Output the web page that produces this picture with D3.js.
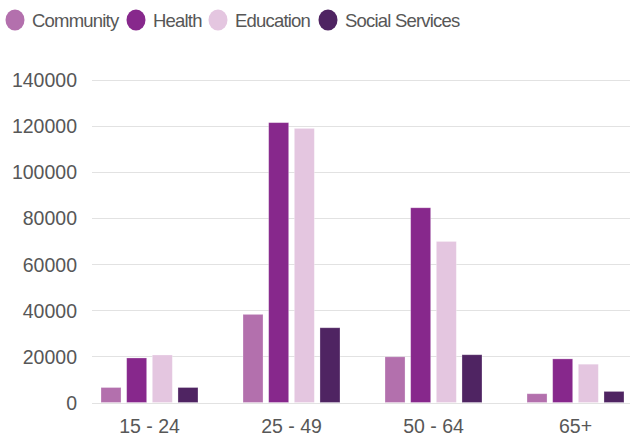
<!DOCTYPE html>
<html><head><meta charset="utf-8">
<script src="https://cdn.jsdelivr.net/npm/d3@7"></script>
<style>
html,body{margin:0;padding:0;background:#fff;}
svg{display:block;font-family:"Liberation Sans",Arial,sans-serif;}
</style></head>
<body><svg id="c" width="630" height="437"></svg>
<script>
const categories = ["15 - 24", "25 - 49", "50 - 64", "65+"];
const seriesNames = ["Community", "Health", "Education", "Social Services"];
const seriesColors = ["#b370ad", "#87288c", "#e4c6e0", "#4f2462"];
const community = [6500, 38200, 19800, 3800];
const health = [19300, 121300, 84400, 18900];
const education = [20600, 118800, 69800, 16600];
const socialServices = [6500, 32400, 20700, 4800];
const yTicks = [0, 20000, 40000, 60000, 80000, 100000, 120000, 140000];

const seriesValues = [community, health, education, socialServices];
const svg = d3.select("#c");

const y = d3.scaleLinear().domain([0, 140000]).range([402.5, 79.5]);
const x = d3.scaleBand().domain(categories).range([101, 624]).paddingInner(0.317).paddingOuter(0);
const xs = d3.scaleBand().domain(seriesNames).range([0, x.bandwidth()]).paddingInner(0.22).paddingOuter(0);

// gridlines
svg.append("g").selectAll("line").data(yTicks).join("line")
  .attr("x1", 92).attr("x2", 630)
  .attr("y1", d => Math.round(y(d)) + 0.5).attr("y2", d => Math.round(y(d)) + 0.5)
  .attr("stroke", "#e2e2e2").attr("stroke-width", 1.2);

// y labels
const yAxis = d3.axisLeft(y).tickValues(yTicks).tickSize(0).tickPadding(0).tickFormat(d3.format("d"));
const ya = svg.append("g").attr("transform", "translate(77,0)").call(yAxis);
ya.select(".domain").remove();
ya.selectAll("text").attr("font-size", 19.5).attr("fill", "#575757").attr("font-family", "Liberation Sans, Arial, sans-serif").attr("dy", "0.36em");

// x labels
const xAxis = d3.axisBottom(x).tickSize(0).tickPadding(0);
const xa = svg.append("g").attr("transform", "translate(0,426)").call(xAxis);
xa.select(".domain").remove();
xa.selectAll("text").attr("font-size", 19.5).attr("fill", "#575757").attr("font-family", "Liberation Sans, Arial, sans-serif").attr("dy", "0.36em");

// bars
const groups = svg.append("g").selectAll("g").data(categories).join("g")
  .attr("transform", d => `translate(${x(d)},0)`);
groups.selectAll("rect").data((c, i) => seriesNames.map((s, j) => ({s, j, v: seriesValues[j][i]}))).join("rect")
  .attr("x", d => xs(d.s)).attr("width", xs.bandwidth())
  .attr("y", d => y(d.v)).attr("height", d => y(0) - y(d.v))
  .attr("fill", d => seriesColors[d.j])
  .attr("stroke", "#fff").attr("stroke-opacity", 0.35).attr("stroke-width", 0.8);

// legend
const legendX = [15, 136, 218, 328];
const lg = svg.append("g").selectAll("g").data(seriesNames).join("g")
  .attr("transform", (d, i) => `translate(${legendX[i]},20)`);
lg.append("ellipse").attr("rx", 9.5).attr("ry", 10.5).attr("fill", (d, i) => seriesColors[i]);
lg.append("text").attr("x", 17).attr("dy", "0.36em").attr("font-size", 18.5).attr("letter-spacing", -0.8)
  .attr("fill", "#575757")
  .attr("font-family", "Liberation Sans, Arial, sans-serif").text(d => d);
</script></body></html>
